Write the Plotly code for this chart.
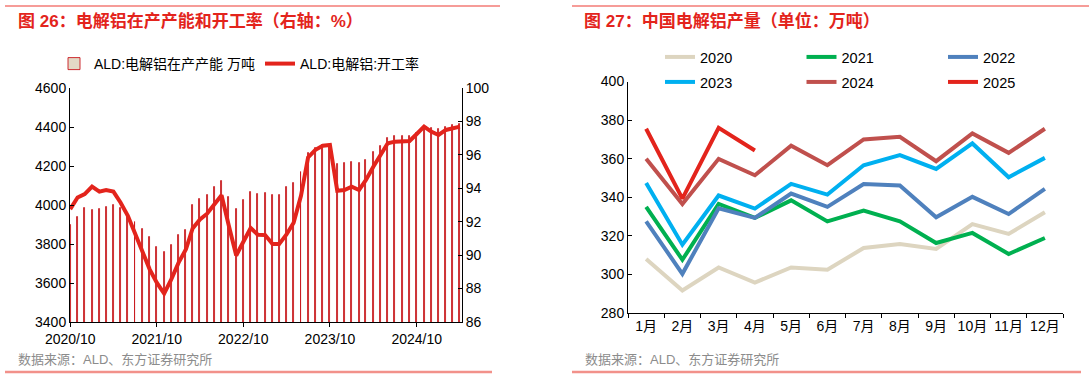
import pandas as pd
import plotly.graph_objects as go

# ---------------- data: left panel ----------------
months = pd.date_range("2020-10-01", periods=55, freq="MS")
capacity = [3898, 3936, 3984, 3975, 3982, 3992, 4001, 3987, 3953, 3915,
            3876, 3836, 3786, 3759, 3793, 3845, 3872, 4001, 4033, 4052,
            4092, 4121, 4042, 3979, 4025, 4068, 4056, 4064, 4052, 4052,
            4092, 4111, 4167, 4266, 4290, 4306, 4305, 4209, 4217, 4219,
            4217, 4231, 4273, 4302, 4342, 4354, 4354, 4354, 4371, 4402,
            4393, 4388, 4402, 4410, 4415]
utilization = [92.75, 93.45, 93.65, 94.10, 93.80, 93.90, 93.80, 93.15, 92.35, 91.35,
               90.25, 89.15, 88.35, 87.70, 88.55, 89.55, 90.35, 91.60, 92.14, 92.48,
               93.05, 93.59, 91.74, 89.98, 90.80, 91.62, 91.22, 91.20, 90.66, 90.66,
               91.24, 91.94, 93.55, 95.85, 96.30, 96.55, 96.59, 93.85, 93.90, 94.10,
               93.90, 94.50, 95.29, 95.99, 96.69, 96.79, 96.79, 96.83, 97.25, 97.69,
               97.39, 97.19, 97.49, 97.59, 97.69]
left_tickvals = ["2020-10-01", "2021-10-01", "2022-10-01", "2023-10-01", "2024-10-01"]
left_ticktext = ["2020/10", "2021/10", "2022/10", "2023/10", "2024/10"]

# ---------------- data: right panel ----------------
month_labels = ["1月", "2月", "3月", "4月", "5月", "6月", "7月", "8月", "9月", "10月", "11月", "12月"]
prod_2020 = [308.0, 291.7, 303.6, 295.8, 303.6, 302.4, 313.7, 315.8, 313.2, 326.1, 321.0, 332.2]
prod_2021 = [335.0, 307.6, 336.5, 329.3, 338.4, 327.5, 333.1, 327.5, 316.3, 321.5, 310.6, 318.9]
prod_2022 = [327.5, 300.3, 334.3, 329.3, 341.9, 335.0, 346.9, 346.1, 329.6, 340.2, 331.3, 344.3]
prod_2023 = [347.4, 315.4, 340.9, 334.1, 346.9, 341.4, 356.6, 361.8, 354.7, 367.9, 350.4, 360.4]
prod_2024 = [359.9, 336.5, 359.9, 351.4, 366.7, 356.6, 370.0, 371.3, 358.7, 373.1, 363.0, 375.5]
prod_2025 = [375.5, 339.3, 376.0, 364.2]

W, H = 1089, 379
FONT = "Liberation Sans, Arial, Noto Sans CJK SC, sans-serif"


def px_x(p):
    return p / W


def px_y(p):
    return 1 - p / H


fig = go.Figure()

# left panel
fig.add_trace(go.Bar(
    x=months, y=capacity, name="ALD:电解铝在产产能 万吨",
    width=4 * 86400000, marker=dict(color="#E3D9C6", line=dict(color="#C8161D", width=0.9)),
    xaxis="x", yaxis="y", legend="legend",
))
fig.add_trace(go.Scatter(
    x=months, y=utilization, name="ALD:电解铝:开工率", mode="lines",
    line=dict(color="#E3241C", width=4), xaxis="x", yaxis="y2", legend="legend",
))

# right panel
series = [
    ("2020", prod_2020, "#DDD5C0", "legend2"),
    ("2021", prod_2021, "#00B050", "legend2"),
    ("2022", prod_2022, "#4F81BD", "legend2"),
    ("2023", prod_2023, "#00B0F0", "legend3"),
    ("2024", prod_2024, "#C0504D", "legend3"),
    ("2025", prod_2025, "#E3241C", "legend3"),
]
for name, vals, col, lg in series:
    fig.add_trace(go.Scatter(
        x=month_labels[:len(vals)], y=vals, name=name, mode="lines",
        line=dict(color=col, width=4), xaxis="x2", yaxis="y3", legend=lg,
    ))

axis_common = dict(showline=True, linecolor="black", linewidth=1, showgrid=False, zeroline=False,
                   automargin=False,
                   tickfont=dict(size=14, color="black", family=FONT), ticklen=4, tickcolor="black")

fig.update_layout(
    width=W, height=H, margin=dict(l=0, r=0, t=0, b=0, autoexpand=False),
    paper_bgcolor="white", plot_bgcolor="white",
    font=dict(family=FONT, color="black"),
    bargap=0,
    xaxis=dict(domain=[px_x(70), px_x(462)], anchor="y", type="date",
               range=["2020-09-30", "2025-04-10"], tickvals=left_tickvals, ticktext=left_ticktext,
               ticks="outside", tickangle=0, **axis_common),
    yaxis=dict(domain=[px_y(322), px_y(88)], anchor="x", range=[3400, 4600], dtick=200,
               ticks="inside", **axis_common),
    yaxis2=dict(overlaying="y", anchor="x", side="right", range=[86, 100], dtick=2,
                ticks="inside", **axis_common),
    xaxis2=dict(domain=[px_x(628), px_x(1063)], anchor="y3", type="category",
                categoryorder="array", categoryarray=month_labels, tickangle=0,
                range=[-0.5, 11.5], tickson="boundaries", ticks="outside", **axis_common),
    yaxis3=dict(domain=[px_y(313), px_y(81.5)], anchor="x2", range=[280, 400], dtick=20,
                ticks="inside", **axis_common),
    legend=dict(orientation="h", x=px_x(54), y=px_y(64), xanchor="left", yanchor="middle",
                font=dict(size=14, family=FONT), bgcolor="rgba(0,0,0,0)", itemwidth=30),
    legend2=dict(orientation="h", x=px_x(660), y=px_y(57), xanchor="left", yanchor="middle",
                 font=dict(size=14.5, family=FONT), bgcolor="rgba(0,0,0,0)",
                 entrywidth=96.5, entrywidthmode="pixels", itemwidth=30),
    legend3=dict(orientation="h", x=px_x(660), y=px_y(82), xanchor="left", yanchor="middle",
                 font=dict(size=14.5, family=FONT), bgcolor="rgba(0,0,0,0)",
                 entrywidth=96.5, entrywidthmode="pixels", itemwidth=30),
)

# titles, source, separator lines
title_font = dict(size=17, color="#E3241C", family=FONT)
src_font = dict(size=13, color="#8C8C8C", family=FONT)
fig.add_annotation(text="<b>图 26：电解铝在产产能和开工率（右轴：%）</b>", x=px_x(16), y=px_y(21),
                   xref="paper", yref="paper", xanchor="left", yanchor="middle", showarrow=False, font=title_font)
fig.add_annotation(text="<b>图 27：中国电解铝产量（单位：万吨）</b>", x=px_x(582), y=px_y(21),
                   xref="paper", yref="paper", xanchor="left", yanchor="middle", showarrow=False, font=title_font)
fig.add_annotation(text="数据来源：ALD、东方证券研究所", x=px_x(16), y=px_y(359),
                   xref="paper", yref="paper", xanchor="left", yanchor="middle", showarrow=False, font=src_font)
fig.add_annotation(text="数据来源：ALD、东方证券研究所", x=px_x(583), y=px_y(359),
                   xref="paper", yref="paper", xanchor="left", yanchor="middle", showarrow=False, font=src_font)

for x0, x1 in [(5, 500), (572, 1089)]:
    fig.add_shape(type="line", xref="paper", yref="paper", x0=px_x(x0), x1=px_x(x1),
                  y0=px_y(6), y1=px_y(6), line=dict(color="#EE3B33", width=1.2))
    fig.add_shape(type="line", xref="paper", yref="paper", x0=px_x(x0), x1=px_x(x1 - 8),
                  y0=px_y(372), y1=px_y(372), line=dict(color="#F2918A", width=2.5))

fig.write_html("out.html", config={"displayModeBar": False},
               post_script="document.body.style.margin='0px';document.body.style.overflow='hidden';")
